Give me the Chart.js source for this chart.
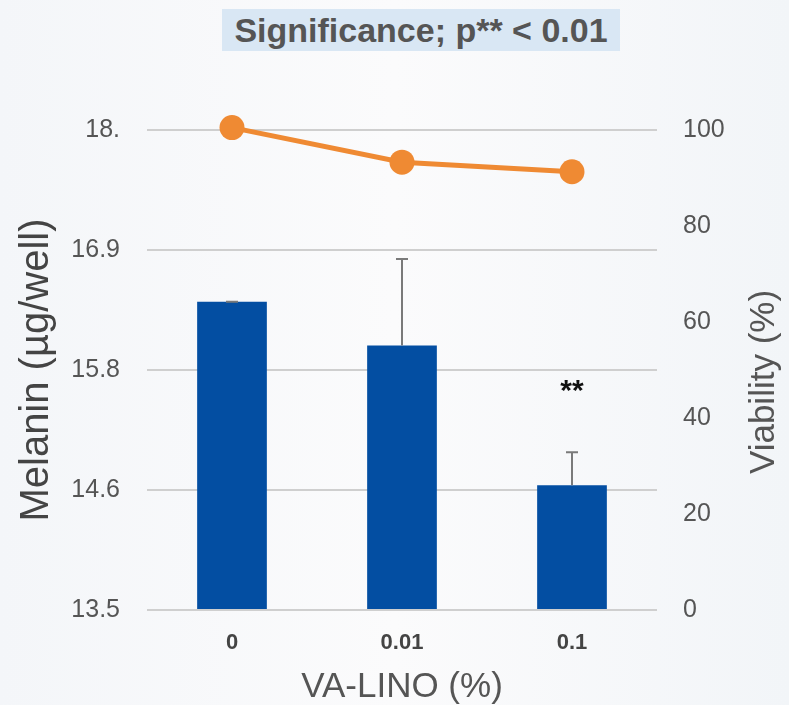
<!DOCTYPE html>
<html>
<head>
<meta charset="utf-8">
<script src="https://cdn.jsdelivr.net/npm/chart.js@4"></script>
<style>
  html, body { margin: 0; padding: 0; }
  #wrap {
    position: relative; width: 789px; height: 705px;
    background: linear-gradient(90deg, #f4f6f9 0%, #fbfbfc 50%, #f2f5f8 100%);
  }
  #title {
    position: absolute; left: 222px; top: 9px; width: 398px; height: 42px;
    background: #d9e7f4; color: #555;
    font: bold 34px "Liberation Sans", Arial, sans-serif;
    line-height: 42px; text-align: center; white-space: nowrap;
  }
  canvas { position: absolute; left: 0; top: 0; }
</style>
</head>
<body>
<div id="wrap">
  <canvas id="chart" width="789" height="705"></canvas>
  <div id="title">Significance; p** &lt; 0.01</div>
</div>
<script>
const categories = ['0', '0.01', '0.1'];
const melanin = [16.39, 15.98, 14.67];
const melaninErr = [0, 0.81, 0.31];
const viability = [100.5, 93.3, 91.3];
const leftTickLabels = ['13.5', '14.6', '15.8', '16.9', '18.'];
const starLabels = ['', '', '**'];
const starLevel = 15.6;

const FONT = '"Liberation Sans", Arial, sans-serif';

// error bars + significance stars on top of bars
const barExtras = {
  id: 'barExtras',
  afterDatasetsDraw(chart) {
    const ctx = chart.ctx;
    const y = chart.scales.y;
    const meta = chart.getDatasetMeta(1);
    ctx.save();
    ctx.strokeStyle = '#7a7a7a';
    ctx.lineWidth = 2;
    meta.data.forEach((bar, i) => {
      const top = y.getPixelForValue(melanin[i] + melaninErr[i]);
      ctx.beginPath();
      ctx.moveTo(bar.x, bar.y);
      ctx.lineTo(bar.x, top);
      ctx.moveTo(bar.x - 6, top);
      ctx.lineTo(bar.x + 6, top);
      ctx.stroke();
      if (starLabels[i]) {
        ctx.fillStyle = '#111';
        ctx.font = 'bold 30px ' + FONT;
        ctx.textAlign = 'center';
        ctx.textBaseline = 'middle';
        ctx.fillText(starLabels[i], bar.x, y.getPixelForValue(starLevel) + 6);
      }
    });
    ctx.restore();
  }
};

// right axis title reads bottom-to-top in the original
const rightTitle = {
  id: 'rightTitle',
  afterDraw(chart) {
    const ctx = chart.ctx;
    const a = chart.chartArea;
    ctx.save();
    ctx.translate(764, (a.top + a.bottom) / 2 + 12);
    ctx.rotate(-Math.PI / 2);
    ctx.fillStyle = '#555';
    ctx.font = '35px ' + FONT;
    ctx.textAlign = 'center';
    ctx.textBaseline = 'middle';
    ctx.fillText('Viability (%)', 0, 0);
    ctx.restore();
  }
};

new Chart(document.getElementById('chart'), {
  data: {
    labels: categories,
    datasets: [
      {
        type: 'line',
        label: 'Viability',
        data: viability,
        yAxisID: 'y1',
        borderColor: '#ef8a33',
        backgroundColor: '#ef8a33',
        borderWidth: 5,
        pointRadius: 12.5,
        pointBackgroundColor: '#ef8a33',
        pointBorderWidth: 0,
        tension: 0,
        clip: false,
        order: 0
      },
      {
        type: 'bar',
        label: 'Melanin',
        data: melanin,
        yAxisID: 'y',
        backgroundColor: '#034ea2',
        barPercentage: 0.41,
        categoryPercentage: 1,
        base: 13.5,
        order: 1
      }
    ]
  },
  options: {
    responsive: false,
    animation: false,
    layout: { padding: { left: 13, right: 0, top: 130, bottom: 0 } },
    plugins: { legend: { display: false }, tooltip: { enabled: false } },
    scales: {
      x: {
        afterFit: s => { s.height = 95; },
        grid: { display: false },
        border: { display: false },
        ticks: { color: '#444', padding: 12, font: { family: FONT, size: 22, weight: 'bold' } },
        title: { display: true, text: 'VA-LINO (%)', color: '#555', padding: { top: 0, bottom: 0 }, font: { family: FONT, size: 35, lineHeight: 1 } }
      },
      y: {
        position: 'left',
        min: 13.5,
        max: 18,
        afterFit: s => { s.width = 134; },
        grid: { color: '#cfcfcf', lineWidth: 2, drawTicks: false },
        border: { display: false },
        ticks: {
          stepSize: 1.125,
          color: '#555',
          padding: 27,
          font: { family: FONT, size: 25 },
          callback: (v, i) => leftTickLabels[i]
        },
        title: { display: true, text: 'Melanin (µg/well)', color: '#444', padding: 0, font: { family: FONT, size: 40 } }
      },
      y1: {
        position: 'right',
        min: 0,
        max: 100,
        afterFit: s => { s.width = 132; },
        grid: { display: false, drawTicks: false },
        border: { display: false },
        ticks: { stepSize: 20, color: '#555', padding: 26, font: { family: FONT, size: 25 } }
      }
    }
  },
  plugins: [barExtras, rightTitle]
});
</script>
</body>
</html>
